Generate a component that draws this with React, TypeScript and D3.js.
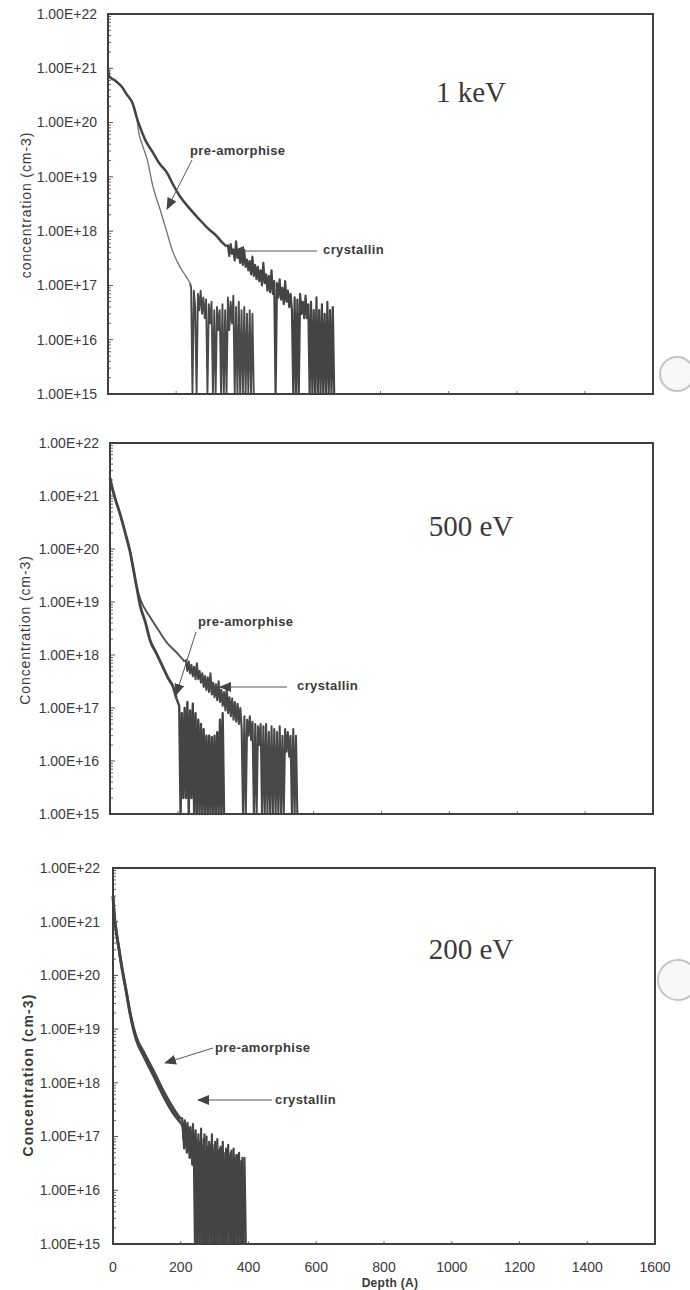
import React from "react";
import * as d3 from "d3";

// SIMS depth profiles: depth in Angstrom, concentration in cm-3.
// Smooth part as depth/conc pairs, the noisy tail as values every TAIL_STEP A.
const TAIL_STEP = 4;

// ---- 1 keV ----
const keV1CrysDepth = [0, 3, 20, 40, 55, 73, 85, 94, 110, 132, 150, 173, 192, 211, 240, 270, 295, 320, 335, 348];
const keV1CrysConc = [1.0e21, 7.2e20, 6.0e20, 4.6e20, 3.3e20, 2.2e20, 1.2e20, 8.3e19, 4.7e19, 2.8e19, 1.8e19, 1.2e19, 7e18, 4.4e18, 2.6e18, 1.6e18, 1.1e18, 8e17, 6.2e17, 5.2e17];
const keV1CrysTailFrom = 352;
const keV1CrysTail = [
  5.5e17, 3.5e17, 5.8e17, 3.8e17, 4.6e17, 2.9e17, 6.5e17, 3.2e17, 4.2e17, 2.6e17,
  3.8e17, 2.4e17, 4.5e17, 2.2e17, 3.0e17, 1.9e17, 2.8e17, 1.6e17, 3.4e17, 1.5e17,
  2.4e17, 1.3e17, 2.2e17, 1.2e17, 1.9e17, 1.0e17, 2.6e17, 1.1e17, 1.6e17, 8e16,
  1.5e17, 7.5e16, 1.9e17, 7e16, 1.2e17, 1e15, 1.1e17, 6e16, 1.3e17, 5.5e16,
  9e16, 4.5e16, 1.2e17, 5e16, 8e16, 4e16, 7e16, 3.5e16, 1e15, 6e16,
  1e15, 5.5e16, 1e15, 7e16, 3e16, 5e16, 2.5e16, 6.5e16, 2.5e16, 4.5e16,
  1e15, 5e16, 1e15, 3.5e16, 1e15, 6e16, 1e15, 3.5e16, 1e15, 4.5e16,
  1e15, 3e16, 1e15, 5e16, 1e15, 3.5e16, 1e15, 4e16, 1e15,
];

const keV1PreDepth = [0, 3, 20, 40, 55, 73, 85, 88, 100, 115, 132, 153, 173, 188, 211, 228, 241];
const keV1PreConc = [1.0e21, 7.2e20, 6.0e20, 4.6e20, 3.3e20, 2.2e20, 1.2e20, 8e19, 4e19, 2.1e19, 6.6e18, 2.5e18, 9.5e17, 4.6e17, 2.2e17, 1.5e17, 1.1e17];
const keV1PreTailFrom = 244;
const keV1PreTail = [
  9e16, 1e15, 8e16, 4e16, 1e15, 7e16, 3.5e16, 8e16, 3e16, 6e16,
  2.5e16, 5.5e16, 1e15, 4.5e16, 2e16, 5e16, 1e15, 3.5e16, 1e15, 4e16,
  1.5e16, 3.5e16, 1e15, 4.5e16, 1e15, 3.5e16, 1e15, 6e16, 1.5e16, 5e16,
  2e16, 6.5e16, 1e15, 4e16, 1e15, 5e16, 1e15, 3.5e16, 1e15, 4e16,
  1e15, 3e16, 1e15, 3.5e16, 1e15, 3e16, 1e15,
];

// ---- 500 eV ----
const eV500CrysDepth = [0, 8, 15, 30, 45, 59, 70, 78, 90, 120, 145, 168, 200, 220];
const eV500CrysConc = [2.2e21, 1.3e21, 9e20, 4.5e20, 2e20, 9e19, 3.8e19, 2e19, 1.1e19, 5e18, 2.8e18, 1.7e18, 1.05e18, 7.5e17];
const eV500CrysTailFrom = 224;
const eV500CrysTail = [
  8e17, 5e17, 7.5e17, 4.5e17, 6.5e17, 4e17, 6e17, 3.5e17, 7e17, 3.5e17,
  5e17, 3e17, 4.5e17, 2.5e17, 4e17, 2.2e17, 3.8e17, 2e17, 4.5e17, 1.8e17,
  3e17, 1.6e17, 2.8e17, 1.4e17, 3.2e17, 1.3e17, 2.2e17, 1.1e17, 2e17, 9e16,
  2.4e17, 8e16, 1.6e17, 7e16, 1.5e17, 6e16, 1.3e17, 5.5e16, 1.2e17, 5e16,
  1e17, 4e16, 1e15, 7e16, 1e15, 6e16, 3e16, 7e16, 2.5e16, 5.5e16,
  1e15, 5e16, 1e15, 4.5e16, 2e16, 5e16, 1e15, 4.5e16, 1e15, 5e16,
  1e15, 3.5e16, 1e15, 4.5e16, 1e15, 4e16, 1e15, 3.5e16, 1e15, 4.5e16,
  1e15, 3e16, 1e15, 4e16, 1.5e16, 3.5e16, 1.2e16, 3e16, 1e15, 4e16,
  1e15, 3e16, 1e15,
];

const eV500PreDepth = [0, 8, 15, 30, 45, 59, 70, 78, 90, 104, 118, 136, 156, 172, 186, 196];
const eV500PreConc = [2.2e21, 1.3e21, 9e20, 4.5e20, 2e20, 9e19, 3.8e19, 2e19, 8e18, 4.2e18, 1.9e18, 1.1e18, 5.9e17, 3.6e17, 2.5e17, 1.5e17];
const eV500PreTailFrom = 204;
const eV500PreTail = [
  1.1e17, 1e15, 8e16, 2e15, 1e17, 2e15, 1.3e17, 1e15, 9e16, 2e15,
  1.2e17, 1e15, 8e16, 1e15, 6e16, 1e15, 5e16, 1e15, 4e16, 1e15,
  3e16, 1e15, 3e16, 1e15, 2.8e16, 1e15, 3e16, 1e15, 3.5e16, 1e15,
  6e16, 1e15, 8e16, 1e15,
];

// ---- 200 eV ----
const eV200CrysDepth = [0, 4, 9, 18, 24, 38, 53, 68, 91, 121, 150, 180, 200];
const eV200CrysConc = [3e21, 1.3e21, 7e20, 3e20, 1.7e20, 5.5e19, 1.7e19, 7.3e18, 3.7e18, 1.6e18, 6.8e17, 3.2e17, 2.1e17];
const eV200CrysTailFrom = 204;
const eV200CrysTail = [
  2.2e17, 9e16, 2e17, 7e16, 1.8e17, 6e16, 1.5e17, 4e16, 1.7e17, 3e16,
  1.3e17, 1e15, 1.1e17, 1e15, 1.4e17, 1e15, 9e16, 1e15, 1e17, 1e15,
  8e16, 1e15, 1.1e17, 1e15, 7e16, 1e15, 9e16, 1e15, 6e16, 1e15,
  8e16, 1e15, 5e16, 1e15, 7e16, 1e15, 5e16, 1e15, 6e16, 1e15,
  4.5e16, 1e15, 5e16, 1e15, 3.5e16, 1e15, 4e16, 1e15,
];

const eV200PreDepth = [0, 4, 9, 18, 24, 38, 53, 68, 91, 121, 150, 180, 200];
const eV200PreConc = [3e21, 1.3e21, 7e20, 3e20, 1.7e20, 5.5e19, 1.6e19, 6.5e18, 3.1e18, 1.3e18, 5.5e17, 2.6e17, 1.8e17];
const eV200PreTailFrom = 206;
const eV200PreTail = [
  1.5e17, 6e16, 1.6e17, 5e16, 1.4e17, 4e16, 1.2e17, 3e16, 1e17, 1e15,
  9e16, 1e15, 8e16, 1e15, 7e16, 1e15, 1.1e17, 1e15, 6.5e16, 1e15,
  7e16, 1e15, 6e16, 1e15, 8e16, 1e15, 5.5e16, 1e15, 6.5e16, 1e15,
  5e16, 1e15, 6e16, 1e15, 4.5e16, 1e15, 5.5e16, 1e15, 4e16, 1e15,
  4.5e16, 1e15, 3.5e16, 1e15, 4e16, 1e15,
];

// axes
const yTickValues = [1e15, 1e16, 1e17, 1e18, 1e19, 1e20, 1e21, 1e22];
const yTickLabels = ["1.00E+15", "1.00E+16", "1.00E+17", "1.00E+18", "1.00E+19", "1.00E+20", "1.00E+21", "1.00E+22"];
const xTickValues = [0, 200, 400, 600, 800, 1000, 1200, 1400, 1600];

type Pt = [number, number];

// smooth head and noisy tail, the tail starting where the head ends
function profile(depth: number[], conc: number[], tailFrom: number, tail: number[]) {
  const head: Pt[] = depth.map((d, i) => [d, conc[i]] as Pt);
  const rest: Pt[] = [head[head.length - 1]];
  tail.forEach((c, i) => rest.push([tailFrom + i * TAIL_STEP, c]));
  return { head, rest };
}

const SANS = "'Liberation Sans', Arial, sans-serif";
const INK = "#3a3a3a";

const panels = [
  {
    frame: { l: 108, t: 14, r: 653, b: 394 },
    tickX: 97,
    title: "concentration (cm-3)", titleBold: false, titleX: 26, titleY: 205,
    energy: "1 keV", energyY: 102,
    series: [
      { ...profile(keV1PreDepth, keV1PreConc, keV1PreTailFrom, keV1PreTail), w: 1.3, c: "#707070", tw: 1.9, tc: "#4a4a4a" },
      { ...profile(keV1CrysDepth, keV1CrysConc, keV1CrysTailFrom, keV1CrysTail), w: 2.5, c: "#444", tw: 2.2, tc: "#444" },
    ],
    notes: [
      { text: "pre-amorphise", tx: 190, ty: 155, x1: 192, y1: 160, x2: 167, y2: 209 },
      { text: "crystallin", tx: 323, ty: 254, x1: 317, y1: 251, x2: 233, y2: 251 },
    ],
    xLabels: false,
  },
  {
    frame: { l: 110, t: 443, r: 653, b: 814 },
    tickX: 99,
    title: "Concentration (cm-3)", titleBold: false, titleX: 25, titleY: 630,
    energy: "500 eV", energyY: 536,
    series: [
      { ...profile(eV500CrysDepth, eV500CrysConc, eV500CrysTailFrom, eV500CrysTail), w: 1.9, c: "#505050", tw: 2.1, tc: "#484848" },
      { ...profile(eV500PreDepth, eV500PreConc, eV500PreTailFrom, eV500PreTail), w: 2.8, c: "#444", tw: 2.4, tc: "#444" },
    ],
    notes: [
      { text: "pre-amorphise", tx: 198, ty: 626, x1: 196, y1: 632, x2: 176, y2: 695 },
      { text: "crystallin", tx: 297, ty: 690, x1: 287, y1: 687, x2: 220, y2: 687 },
    ],
    xLabels: false,
  },
  {
    frame: { l: 113, t: 868, r: 655, b: 1244 },
    tickX: 100,
    title: "Concentration (cm-3)", titleBold: true, titleX: 28, titleY: 1075,
    energy: "200 eV", energyY: 959,
    series: [
      { ...profile(eV200CrysDepth, eV200CrysConc, eV200CrysTailFrom, eV200CrysTail), w: 2.8, c: "#444", tw: 2.2, tc: "#444" },
      { ...profile(eV200PreDepth, eV200PreConc, eV200PreTailFrom, eV200PreTail), w: 2.8, c: "#444", tw: 2.2, tc: "#444" },
    ],
    notes: [
      { text: "pre-amorphise", tx: 215, ty: 1052, x1: 213, y1: 1048, x2: 165, y2: 1063 },
      { text: "crystallin", tx: 275, ty: 1104, x1: 272, y1: 1100, x2: 198, y2: 1100 },
    ],
    xLabels: true,
  },
];

function Panel({ p }: { p: (typeof panels)[number] }) {
  const { l, t, r, b } = p.frame;
  const x = d3.scaleLinear().domain([0, 1600]).range([l, r]);
  const y = d3.scaleLog().domain([1e15, 1e22]).range([b, t]).clamp(true);
  const line = d3
    .line<Pt>()
    .x((d) => x(d[0]))
    .y((d) => y(d[1]));
  const smooth = d3
    .line<Pt>()
    .x((d) => x(d[0]))
    .y((d) => y(d[1]))
    .curve(d3.curveMonotoneX);
  const minor = y.ticks().filter((v) => !yTickValues.includes(v));

  return (
    <g>
      <rect x={l} y={t} width={r - l} height={b - t} fill="#fff" />
      {minor.map((v, i) => (
        <line key={"m" + i} x1={l} x2={l + 3} y1={y(v)} y2={y(v)} stroke="#666" strokeWidth={1} />
      ))}
      {yTickValues.map((v, i) => (
        <g key={"y" + i}>
          <line x1={l} x2={l + 5} y1={y(v)} y2={y(v)} stroke="#555" strokeWidth={1} />
          <text x={p.tickX} y={y(v)} dy="0.35em" textAnchor="end" fontFamily={SANS} fontSize={14} fill={INK}>
            {yTickLabels[i]}
          </text>
        </g>
      ))}
      {xTickValues.map((v, i) => (
        <line key={"x" + i} x1={x(v)} x2={x(v)} y1={b} y2={b - 3} stroke="#777" strokeWidth={1} />
      ))}
      {p.series.map((s, i) => (
        <g key={"s" + i}>
          <path d={line(s.rest) || ""} fill="none" stroke={s.tc} strokeWidth={s.tw} strokeLinejoin="round" />
          <path d={smooth(s.head) || ""} fill="none" stroke={s.c} strokeWidth={s.w} strokeLinejoin="round" />
        </g>
      ))}
      <rect x={l} y={t} width={r - l} height={b - t} fill="none" stroke="#404040" strokeWidth={2} />
      <text
        transform={`translate(${p.titleX},${p.titleY}) rotate(-90)`}
        textAnchor="middle"
        dy="0.35em"
        fontFamily={SANS}
        fontSize={14}
        fontWeight={p.titleBold ? "bold" : "normal"}
        letterSpacing={p.titleBold ? 1.1 : 0.9}
        fill={INK}
      >
        {p.title}
      </text>
      <text
        x={471}
        y={p.energyY}
        textAnchor="middle"
        fontFamily="'Liberation Serif', 'Times New Roman', serif"
        fontSize={29}
        fill={INK}
      >
        {p.energy}
      </text>
      {p.notes.map((n, i) => (
        <g key={"n" + i}>
          <line x1={n.x1} y1={n.y1} x2={n.x2} y2={n.y2} stroke="#555" strokeWidth={1} markerEnd="url(#arrowHead)" />
          <text x={n.tx} y={n.ty} fontFamily={SANS} fontSize={13} fontWeight="bold" letterSpacing={0.4} fill={INK}>
            {n.text}
          </text>
        </g>
      ))}
      {p.xLabels &&
        xTickValues.map((v, i) => (
          <text key={"xl" + i} x={x(v)} y={1272} textAnchor="middle" fontFamily={SANS} fontSize={14} fill={INK}>
            {v}
          </text>
        ))}
    </g>
  );
}

export default function App() {
  return (
    <svg
      width={690}
      height={1290}
      viewBox="0 0 690 1290"
      style={{ position: "absolute", left: 0, top: 0, display: "block", background: "#fff" }}
    >
      <defs>
        <marker
          id="arrowHead"
          markerUnits="userSpaceOnUse"
          markerWidth={12}
          markerHeight={10}
          refX={11}
          refY={5}
          orient="auto"
        >
          <path d="M0,0 L12,5 L0,10 Z" fill="#444" />
        </marker>
      </defs>
      {panels.map((p, i) => (
        <Panel key={i} p={p} />
      ))}
      <text x={390} y={1287} textAnchor="middle" fontFamily={SANS} fontSize={12} fontWeight="bold" letterSpacing={0.3} fill={INK}>
        Depth (A)
      </text>
      {/* punch holes visible on the scan */}
      <circle cx={677} cy={374} r={17} fill="#f7f7f7" stroke="#c4c4c4" strokeWidth={2} />
      <circle cx={678} cy={980} r={20} fill="#f7f7f7" stroke="#c4c4c4" strokeWidth={2} />
    </svg>
  );
}
